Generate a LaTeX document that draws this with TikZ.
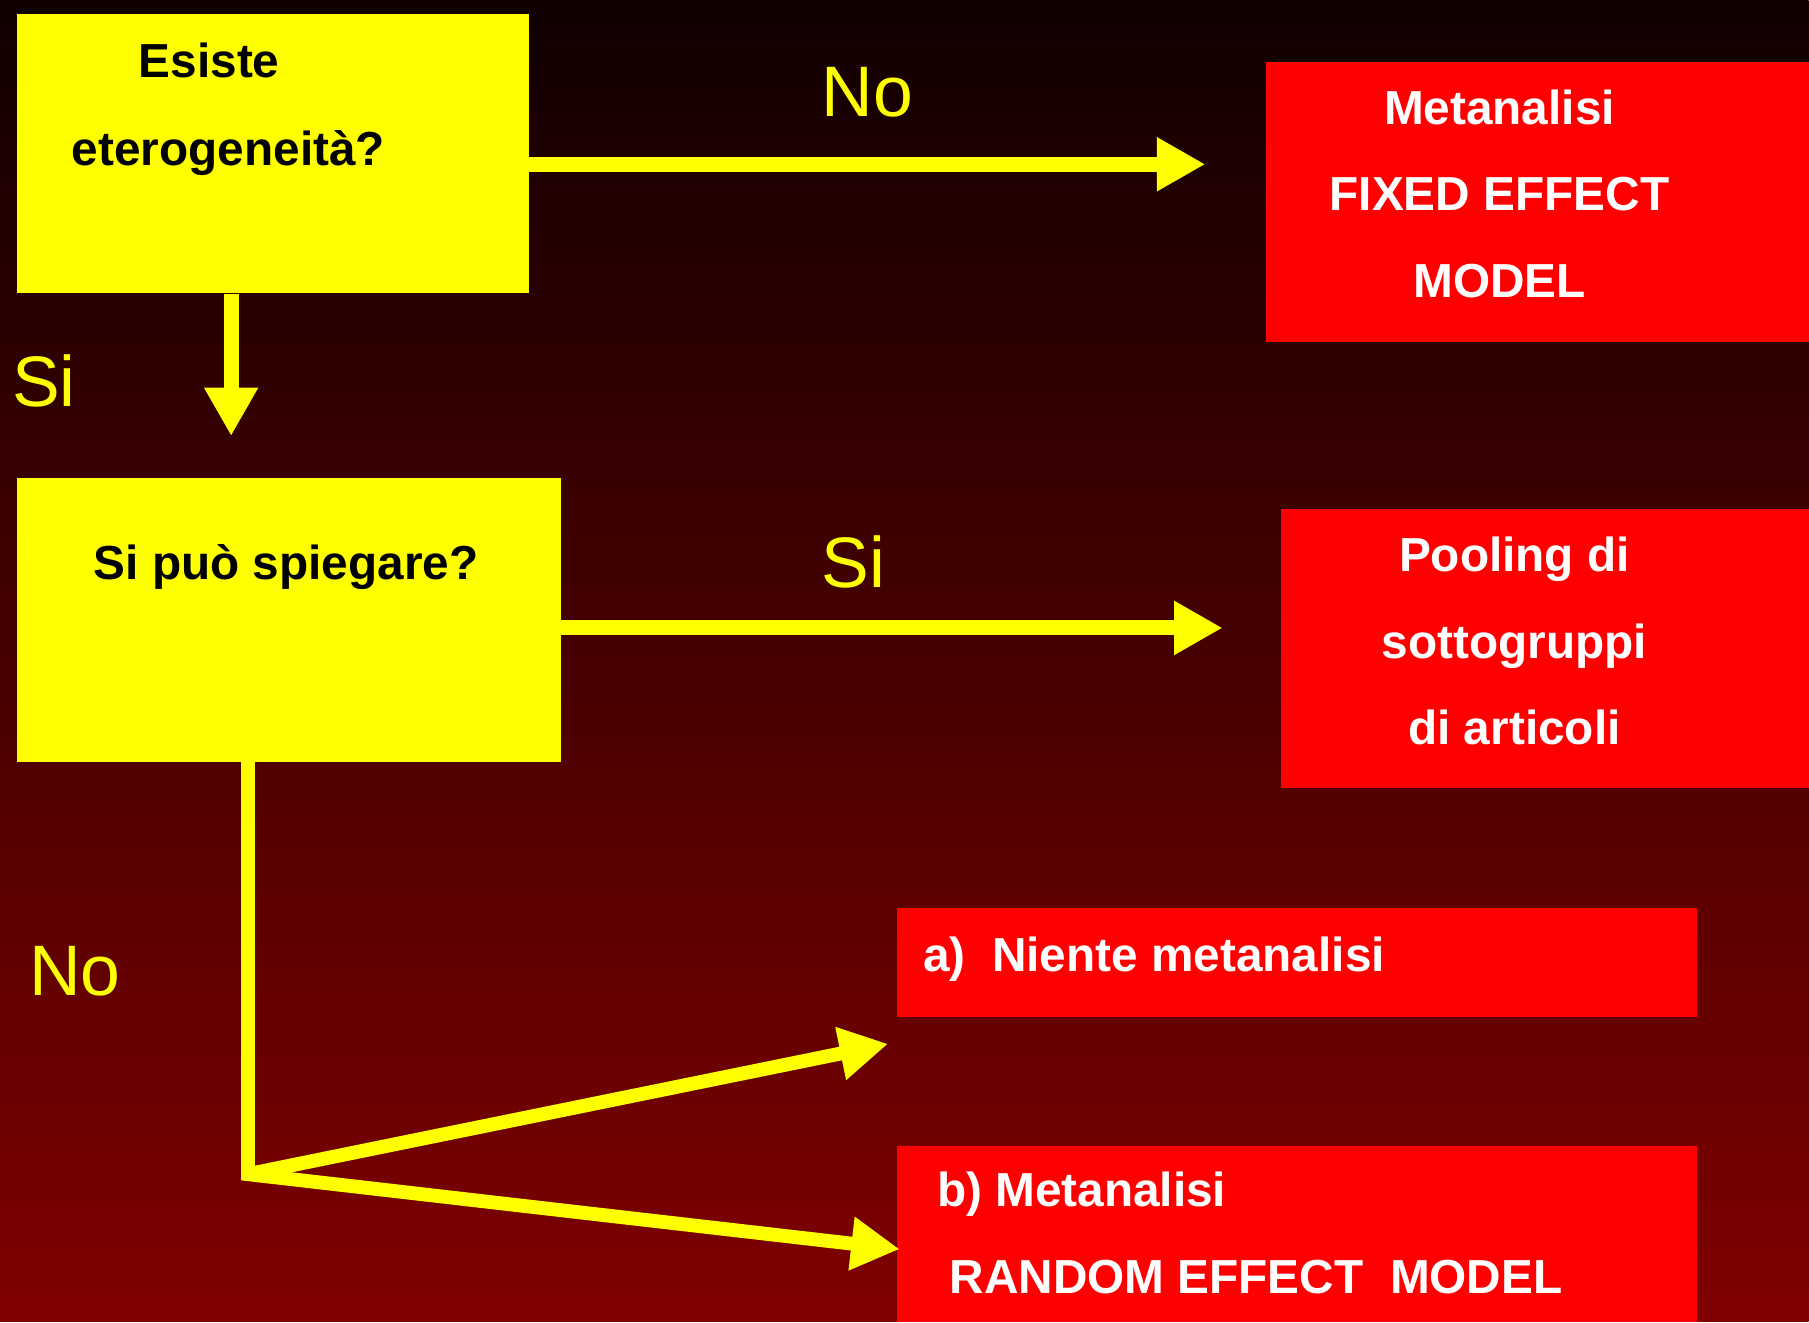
\documentclass[tikz,border=0pt]{standalone}
\usepackage{fontspec}
\setmainfont{Liberation Sans}
\usetikzlibrary{arrows.meta,positioning,calc}
\definecolor{slideyellow}{RGB}{255,255,0}
\definecolor{slidered}{RGB}{255,0,0}
\definecolor{bgtop}{RGB}{16,0,0}
\definecolor{bgmid}{RGB}{100,0,0}
\definecolor{bgbottom}{RGB}{128,0,0}

\begin{document}
\begin{tikzpicture}[x=0.5pt,y=-0.5pt,
        qbox/.style={fill=slideyellow, inner sep=0pt, anchor=north west},
        abox/.style={fill=slidered, inner sep=0pt, anchor=north west},
        qtext/.style={font=\bfseries\fontsize{20.7}{38}\selectfont, text=black, align=left, inner sep=0pt},
        atext/.style={font=\bfseries\fontsize{20.7}{37.5}\selectfont, text=white, inner sep=0pt},
        answer/.style={font=\fontsize{31}{31}\selectfont, text=slideyellow, inner sep=0pt},
        link/.style={draw=slideyellow, line width=6.5pt},
        flow/.style={link, -{Triangle[length=21pt,width=22pt]}}]
    \shade[top color=bgtop, middle color=bgmid, bottom color=bgbottom] (0,0) rectangle (1568,1146);

    \node[qbox, minimum width=222pt, minimum height=121pt] (q1) at (14,12) {};
    \node[qbox, minimum width=236pt, minimum height=123pt] (q2) at (14,414) {};
    \node[abox, minimum width=235.5pt, minimum height=121.5pt] (fixed) at (1097,53) {};
    \node[abox, minimum width=229pt, minimum height=121pt] (pooling) at (1110,441) {};
    \node[abox, minimum width=347pt, minimum height=47pt] (niente) at (777,787) {};
    \node[abox, minimum width=347pt, minimum height=76.5pt] (random) at (777,993) {};

    \node[qtext, anchor=west] (q1text) at (62,95) {\hspace*{29pt}Esiste\\eterogeneità?};
    \node[qtext] (q2text) at (248,492) {Si può spiegare?};
    \node[atext, align=center] (fixedtext) at (1300,168) {Metanalisi\\FIXED EFFECT\\MODEL};
    \node[atext, align=center] (poolingtext) at (1313,556) {Pooling di\\sottogruppi\\di articoli};
    \node[atext, anchor=west] (nientetext) at (800,832) {a)\ \ Niente metanalisi};
    \node[atext, align=left, anchor=west] (randomtext) at (812,1069) {b) Metanalisi\\\hspace*{5.5pt}RANDOM EFFECT\ \ MODEL};

    \node[answer] (no1) at (752,80) {No};
    \node[answer] (si1) at (38,330) {Si};
    \node[answer] (si2) at (740,487) {Si};
    \node[answer] (no2) at (65,842) {No};

    \coordinate (fork) at (215,1018);
    \coordinate (tipa) at (770,905);
    \coordinate (tipb) at (780,1083);

    \draw[flow, shorten >=26pt] ([yshift=-4.5pt]q1.east) -- ([yshift=-4.5pt]q1.east -| fixed.west);
    \draw[flow, shorten >=18pt] ([xshift=-18pt]q1.south) -- ([xshift=-18pt]q1.south |- q2.north);
    \draw[flow, shorten >=25pt] ([yshift=-3.5pt]q2.east) -- ([yshift=-3.5pt]q2.east -| pooling.west);
    \draw[flow, line width=6pt] (fork |- q2.south) -- (fork) -- (tipb);
    \draw[flow, line width=6pt] (fork) -- (tipa);
\end{tikzpicture}
\end{document}
